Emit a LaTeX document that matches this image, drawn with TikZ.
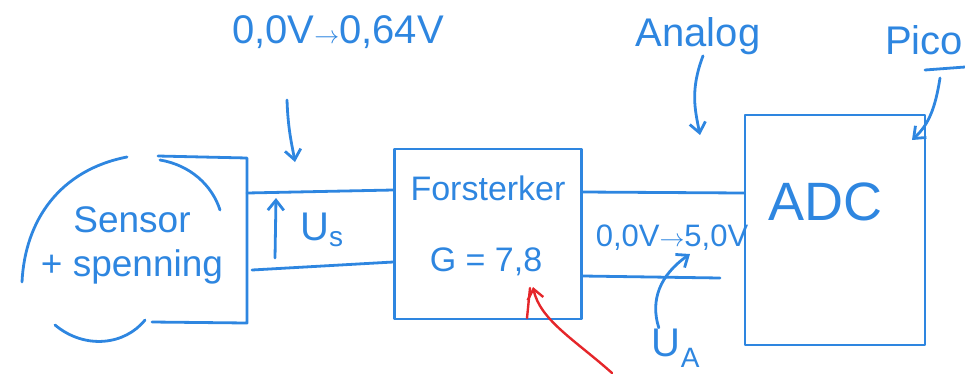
\documentclass[tikz,border=0pt]{standalone}
\usepackage{fontspec}
\setmainfont{Liberation Sans}
\usetikzlibrary{arrows.meta,positioning}
\definecolor{penblue}{HTML}{2E86E0}
\definecolor{penred}{HTML}{E5262A}

\begin{document}
\begin{tikzpicture}[x=1pt,y=-1pt,
  ink/.style={draw=penblue,line width=2.8pt,line cap=round,line join=round},
  redink/.style={draw=penred,line width=2.4pt,line cap=round,line join=round},
  txt/.style={text=penblue,font=\fontsize{34}{40}\selectfont,inner sep=1pt},
  big/.style={font=\fontsize{40}{46}\selectfont},
  tip/.style={-{Straight Barb[length=10pt,width=16pt]}}]
  \useasboundingbox (0,0) rectangle (965,373);
  % blocks
  \node[txt,align=center,font=\fontsize{37}{42}\selectfont] (sensor) at (132,245) {Sensor\\[2pt]+ spenning};
  \node[ink,minimum width=187pt,minimum height=170pt] (amp) at (488,234) {};
  \node[txt] (ampname) at (488,188) {Forsterker};
  \node[txt] (gain) at (486,262) {G = 7,8};
  \node[ink,minimum width=180pt,minimum height=230pt] (adc) at (835,230) {};
  \node[txt,font=\fontsize{54}{60}\selectfont] (adcname) at (825,202) {ADC};
  % sensor box and its curves
  \draw[ink] (158,156) -- (247,158) -- (247,323) -- (152,322);
  \draw[ink] (127,157) .. controls (60,170) and (25,220) .. (22,282);
  \draw[ink] (55,325) .. controls (85,350) and (125,345) .. (145,320);
  \draw[ink] (160,160) .. controls (190,165) and (212,185) .. (220,210);
  % wires sensor -> amp
  \draw[ink] (247,193) -- (amp.west |- 0,190);
  \draw[ink] (252,270) -- (amp.west |- 0,262);
  \coordinate (usbot) at (275,258);
  \coordinate (ustop) at (276,198);
  \draw[ink,tip] (usbot) -- (ustop);
  \node[txt,big] (us) at (322,230) {U\textsubscript{s}};
  % wires amp -> adc
  \draw[ink] (amp.east |- 0,192) -- (adc.west |- 0,193);
  \draw[ink] (amp.east |- 0,276) -- (720,278);
  \node[txt,font=\fontsize{31}{36}\selectfont] (outrange) at (672,238) {0,0V$\to$5,0V};
  \node[txt,big] (ua) at (676,348) {U\textsubscript{A}};
  \draw[ink,tip] (ua.north west) ++(8,0) .. controls (650,300) and (660,275) .. (690,254);
  % labels above
  \node[txt,big] (inrange) at (338,32) {0,0V$\to$0,64V};
  \draw[ink,tip] (287,100) .. controls (288,130) and (292,145) .. (295,162);
  \node[txt,big] (analog) at (698,36) {Analog};
  \draw[ink,tip] (analog.south) ++(5,0) .. controls (690,90) and (695,110) .. (700,135);
  \node[txt,big,anchor=west] (pico) at (884,40) {Pico};
  \draw[ink] (925,70) -- (965,67);
  \draw[ink,tip] (940,78) .. controls (935,110) and (928,125) .. (912,140);
  % red arrow to the gain
  \coordinate (redstart) at (612,373);
  \draw[redink,tip] (redstart) .. controls (575,340) and (540,320) .. (533,287);
  \draw[redink] (527,318) -- (530,288);
\end{tikzpicture}
\end{document}
